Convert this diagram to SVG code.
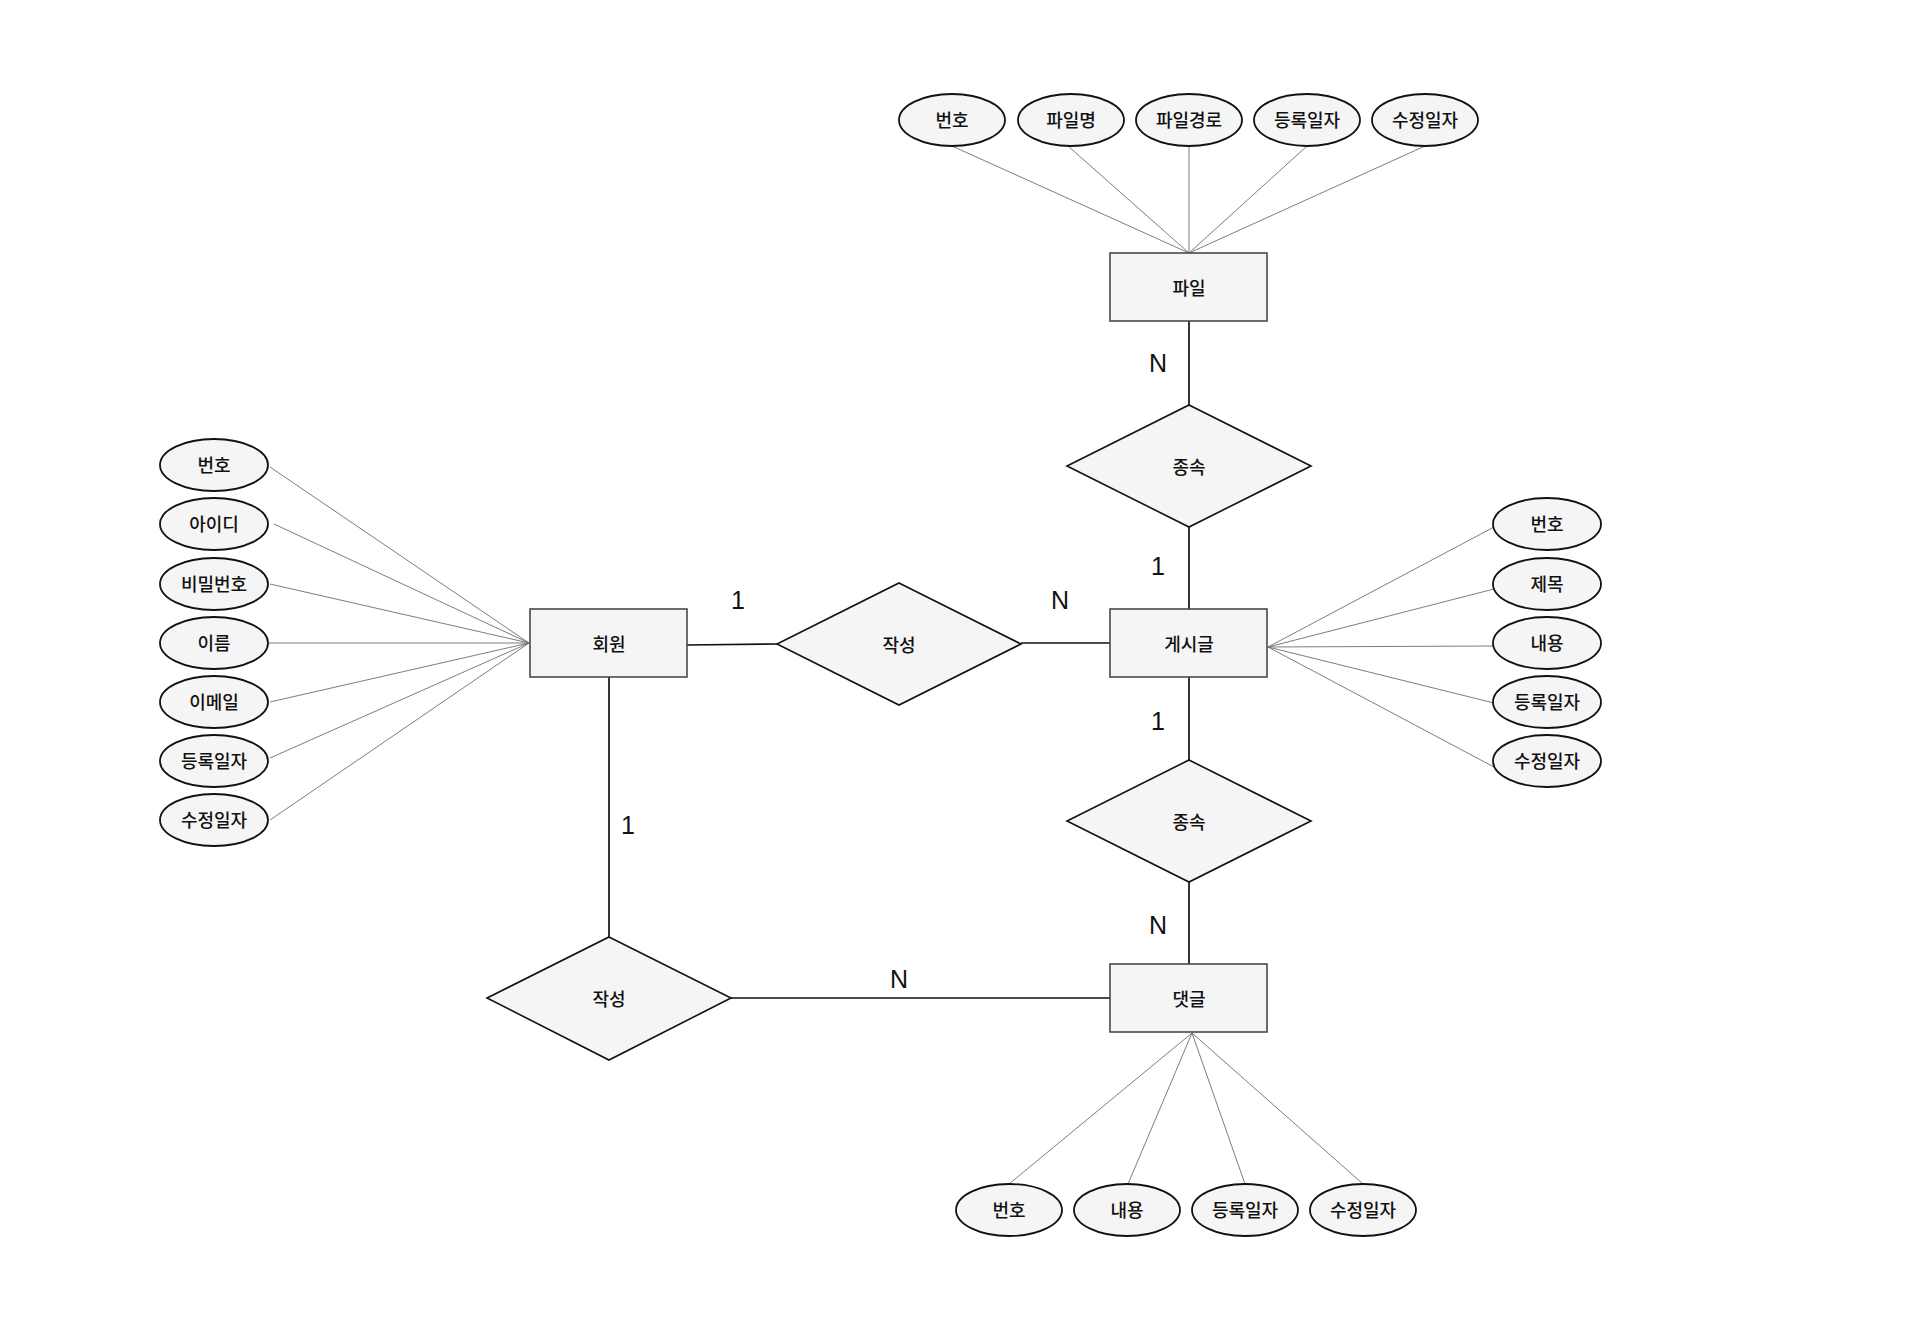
<svg xmlns="http://www.w3.org/2000/svg" width="1920" height="1328" viewBox="0 0 1920 1328">
<style>
.bg{fill:#ffffff}
.ent{fill:#f5f5f5;stroke:#4d4848;stroke-width:1.6}
.rel{fill:#f5f5f5;stroke:#111;stroke-width:1.6}
.att{fill:#f5f5f5;stroke:#111;stroke-width:1.8}
.t{font-family:"Noto Sans CJK KR","Noto Sans",sans-serif;font-size:18px;font-weight:500;fill:#111;text-anchor:middle;dominant-baseline:central}
.lab{font-family:"Liberation Sans","Noto Sans",sans-serif;font-size:25px;fill:#111;text-anchor:middle;dominant-baseline:central}
.al{stroke:#6e6e6e;stroke-width:0.9;fill:none}
.rl{stroke:#111;stroke-width:1.7;fill:none}
</style>
<rect class="bg" x="0" y="0" width="1920" height="1328"/>
<g id="connectors">
  <line class="al" x1="952" y1="146" x2="1189" y2="253"/>
  <line class="al" x1="1068" y1="146" x2="1189" y2="253"/>
  <line class="al" x1="1189" y1="146" x2="1189" y2="253"/>
  <line class="al" x1="1307" y1="146" x2="1189" y2="253"/>
  <line class="al" x1="1425" y1="146" x2="1189" y2="253"/>
  <line class="al" x1="270" y1="467" x2="529" y2="643"/>
  <line class="al" x1="274" y1="524" x2="529" y2="643"/>
  <line class="al" x1="270" y1="584" x2="529" y2="643"/>
  <line class="al" x1="269" y1="643" x2="529" y2="643"/>
  <line class="al" x1="270" y1="702" x2="529" y2="643"/>
  <line class="al" x1="270" y1="758" x2="529" y2="643"/>
  <line class="al" x1="270" y1="820" x2="529" y2="643"/>
  <line class="al" x1="1268" y1="647" x2="1494" y2="527"/>
  <line class="al" x1="1268" y1="647" x2="1494" y2="589"/>
  <line class="al" x1="1268" y1="647" x2="1494" y2="646"/>
  <line class="al" x1="1268" y1="647" x2="1494" y2="703"/>
  <line class="al" x1="1268" y1="647" x2="1494" y2="767"/>
  <line class="al" x1="1192" y1="1033" x2="1009" y2="1184"/>
  <line class="al" x1="1192" y1="1033" x2="1128" y2="1184"/>
  <line class="al" x1="1192" y1="1033" x2="1245" y2="1184"/>
  <line class="al" x1="1192" y1="1033" x2="1363" y2="1184"/>
  <line class="rl" x1="1189" y1="321" x2="1189" y2="405"/>
  <line class="rl" x1="1189" y1="527" x2="1189" y2="609"/>
  <line class="rl" x1="1189" y1="677" x2="1189" y2="760"/>
  <line class="rl" x1="1189" y1="882" x2="1189" y2="964"/>
  <line class="rl" x1="687" y1="645" x2="777" y2="644"/>
  <line class="rl" x1="1021" y1="643" x2="1110" y2="643"/>
  <line class="rl" x1="609" y1="677" x2="609" y2="937"/>
  <line class="rl" x1="731" y1="998" x2="1110" y2="998"/>
  <text class="lab" x="1158" y="363">N</text>
  <text class="lab" x="1158" y="566">1</text>
  <text class="lab" x="1158" y="721">1</text>
  <text class="lab" x="1158" y="925">N</text>
  <text class="lab" x="738" y="600">1</text>
  <text class="lab" x="1060" y="600">N</text>
  <text class="lab" x="628" y="825">1</text>
  <text class="lab" x="899" y="979">N</text>
</g>
<g id="file"><rect class="ent" x="1110" y="253" width="157" height="68"/><text class="t" x="1189" y="287">파일</text></g>
<g id="post"><rect class="ent" x="1110" y="609" width="157" height="68"/><text class="t" x="1189" y="643">게시글</text></g>
<g id="member"><rect class="ent" x="530" y="609" width="157" height="68"/><text class="t" x="609" y="643">회원</text></g>
<g id="comment"><rect class="ent" x="1110" y="964" width="157" height="68"/><text class="t" x="1189" y="998">댓글</text></g>
<g id="rel-file"><polygon class="rel" points="1189,405 1311,466 1189,527 1067,466"/><text class="t" x="1189" y="466">종속</text></g>
<g id="rel-comment"><polygon class="rel" points="1189,760 1311,821 1189,882 1067,821"/><text class="t" x="1189" y="821">종속</text></g>
<g id="rel-write-post"><polygon class="rel" points="899,583 1021,644 899,705 777,644"/><text class="t" x="899" y="644">작성</text></g>
<g id="rel-write-comment"><polygon class="rel" points="609,937 731,998 609,1060 487,998"/><text class="t" x="609" y="998">작성</text></g>
<g id="file-no"><ellipse class="att" cx="952" cy="120" rx="53" ry="26"/><text class="t" x="952" y="119">번호</text></g>
<g id="file-name"><ellipse class="att" cx="1071" cy="120" rx="53" ry="26"/><text class="t" x="1071" y="119">파일명</text></g>
<g id="file-path"><ellipse class="att" cx="1189" cy="120" rx="53" ry="26"/><text class="t" x="1189" y="119">파일경로</text></g>
<g id="file-reg"><ellipse class="att" cx="1307" cy="120" rx="53" ry="26"/><text class="t" x="1307" y="119">등록일자</text></g>
<g id="file-mod"><ellipse class="att" cx="1425" cy="120" rx="53" ry="26"/><text class="t" x="1425" y="119">수정일자</text></g>
<g id="mem-no"><ellipse class="att" cx="214" cy="465" rx="54" ry="26"/><text class="t" x="214" y="464">번호</text></g>
<g id="mem-id"><ellipse class="att" cx="214" cy="524" rx="54" ry="26"/><text class="t" x="214" y="523">아이디</text></g>
<g id="mem-pw"><ellipse class="att" cx="214" cy="584" rx="54" ry="26"/><text class="t" x="214" y="583">비밀번호</text></g>
<g id="mem-name"><ellipse class="att" cx="214" cy="643" rx="54" ry="26"/><text class="t" x="214" y="642">이름</text></g>
<g id="mem-email"><ellipse class="att" cx="214" cy="702" rx="54" ry="26"/><text class="t" x="214" y="701">이메일</text></g>
<g id="mem-reg"><ellipse class="att" cx="214" cy="761" rx="54" ry="26"/><text class="t" x="214" y="760">등록일자</text></g>
<g id="mem-mod"><ellipse class="att" cx="214" cy="820" rx="54" ry="26"/><text class="t" x="214" y="819">수정일자</text></g>
<g id="post-no"><ellipse class="att" cx="1547" cy="524" rx="54" ry="26"/><text class="t" x="1547" y="523">번호</text></g>
<g id="post-title"><ellipse class="att" cx="1547" cy="584" rx="54" ry="26"/><text class="t" x="1547" y="583">제목</text></g>
<g id="post-body"><ellipse class="att" cx="1547" cy="643" rx="54" ry="26"/><text class="t" x="1547" y="642">내용</text></g>
<g id="post-reg"><ellipse class="att" cx="1547" cy="702" rx="54" ry="26"/><text class="t" x="1547" y="701">등록일자</text></g>
<g id="post-mod"><ellipse class="att" cx="1547" cy="761" rx="54" ry="26"/><text class="t" x="1547" y="760">수정일자</text></g>
<g id="cmt-no"><ellipse class="att" cx="1009" cy="1210" rx="53" ry="26"/><text class="t" x="1009" y="1209">번호</text></g>
<g id="cmt-body"><ellipse class="att" cx="1127" cy="1210" rx="53" ry="26"/><text class="t" x="1127" y="1209">내용</text></g>
<g id="cmt-reg"><ellipse class="att" cx="1245" cy="1210" rx="53" ry="26"/><text class="t" x="1245" y="1209">등록일자</text></g>
<g id="cmt-mod"><ellipse class="att" cx="1363" cy="1210" rx="53" ry="26"/><text class="t" x="1363" y="1209">수정일자</text></g>
</svg>
